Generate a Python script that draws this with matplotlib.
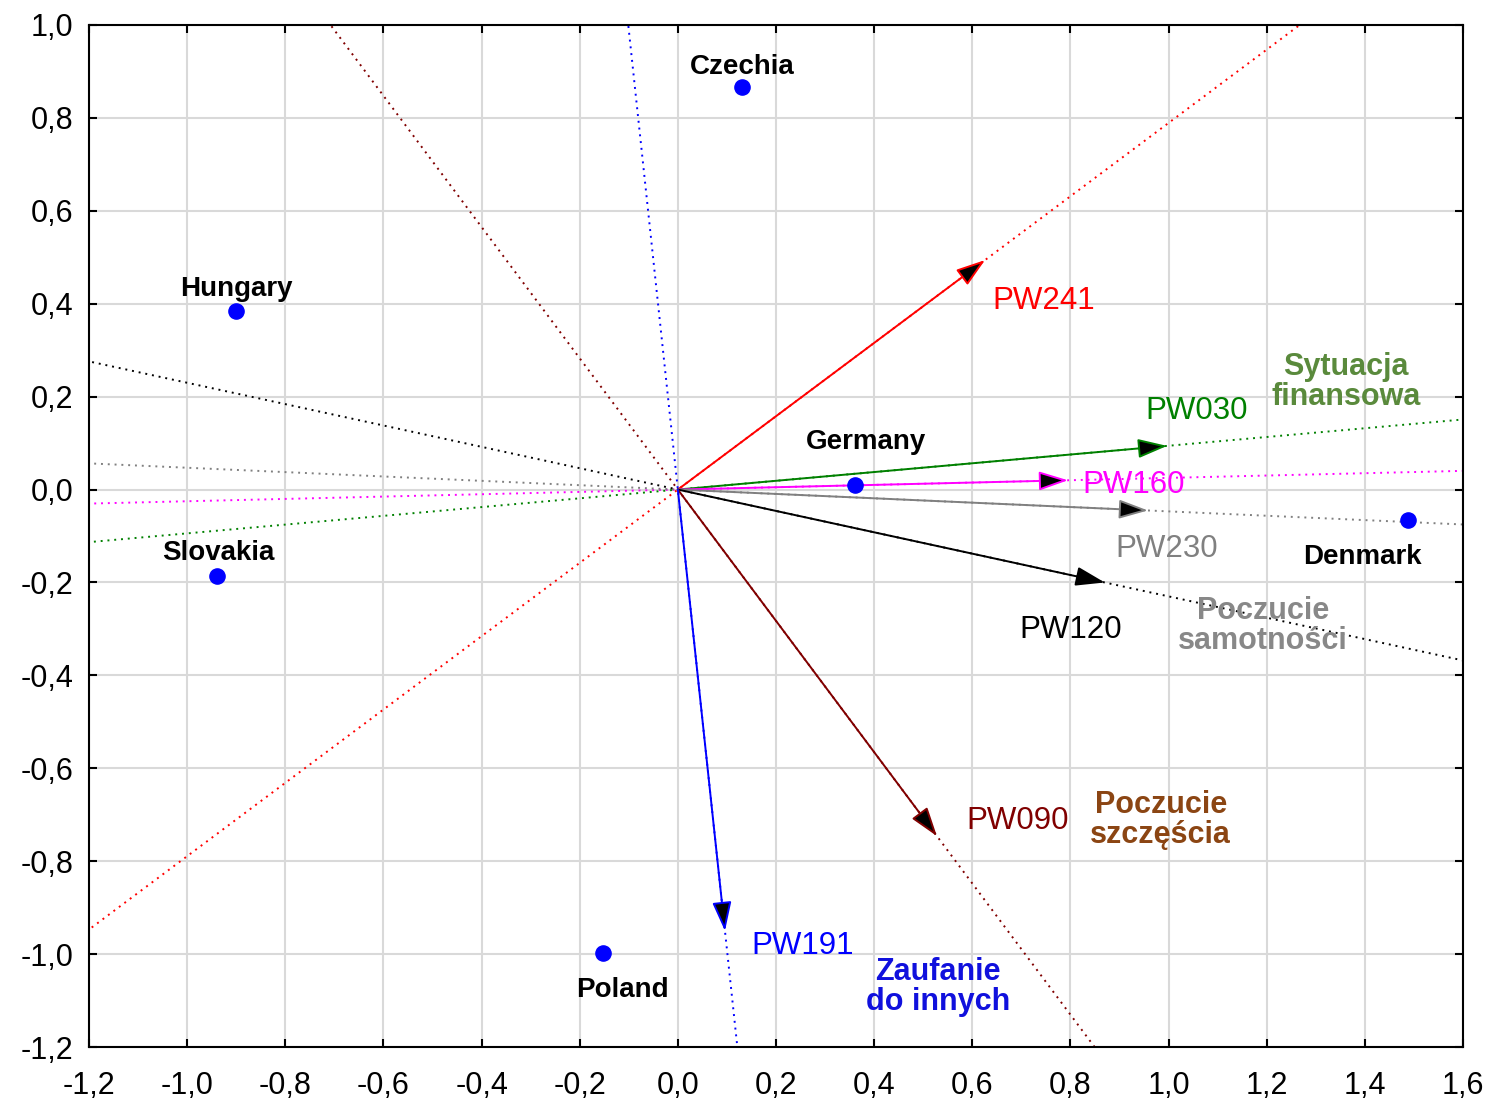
import numpy as np
import matplotlib
matplotlib.use("Agg")
import matplotlib.pyplot as plt

# countries (points)
countries = ["Czechia", "Hungary", "Germany", "Slovakia", "Denmark", "Poland"]
country_x = [0.13, -0.90, 0.36, -0.94, 1.488, -0.153]
country_y = [0.867, 0.384, 0.01, -0.186, -0.066, -0.998]

# variable vectors
vectors = ["PW241", "PW030", "PW160", "PW230", "PW120", "PW090", "PW191"]
vec_x = [0.626, 0.997, 0.795, 0.958, 0.87, 0.528, 0.096]
vec_y = [0.494, 0.094, 0.020, -0.045, -0.200, -0.746, -0.950]
vec_colors = ["#FF0000", "#008000", "#FF00FF", "#808080", "#000000", "#800000", "#0000FF"]

# group labels
groups = ["Sytuacja\nfinansowa", "Poczucie\nsamotności", "Poczucie\nszczęścia", "Zaufanie\ndo innych"]
group_colors = ["#5A8A3C", "#888888", "#8B4513", "#1010DD"]

plt.rcParams["font.family"] = ["Liberation Sans", "DejaVu Sans"]

fig = plt.figure(figsize=(14.91, 11.01), dpi=100)
ax = fig.add_axes([0.0597, 0.049, 0.9215, 0.9283])

xlim = (-1.2, 1.6)
ylim = (-1.2, 1.0)

# dotted lines through origin
for vx, vy, c in zip(vec_x, vec_y, vec_colors):
    t = np.array([-20.0, 20.0])
    ax.plot(t * vx, t * vy, linestyle=(0, (1, 2.5)), color=c, lw=1.4, zorder=2)

# arrows
for vx, vy, c in zip(vec_x, vec_y, vec_colors):
    ax.annotate("", xy=(vx, vy), xytext=(0, 0),
                arrowprops=dict(arrowstyle="-|>,head_length=1.0,head_width=0.33",
                                color=c, fc="k", lw=1.4, shrinkA=0, shrinkB=0,
                                mutation_scale=18),
                zorder=3)

ax.scatter(country_x, country_y, s=120, color="#0000FF", zorder=4)

# country labels
country_lx = [0.132, -0.899, 0.383, -0.937, 1.396, -0.112]
country_ly = [0.91, 0.432, 0.102, -0.137, -0.145, -1.077]
for name, lx, ly in zip(countries, country_lx, country_ly):
    ax.text(lx, ly, name, ha="center", va="center", fontsize=20, fontweight="bold",
            zorder=5)

# vector labels
vec_lx = [0.64, 0.952, 0.825, 0.891, 0.695, 0.589, 0.149]
vec_ly = [0.406, 0.169, 0.01, -0.128, -0.302, -0.714, -0.983]
for name, lx, ly, c in zip(vectors, vec_lx, vec_ly, vec_colors):
    ax.text(lx, ly, name, ha="left", va="center", fontsize=22.5, color=c, zorder=5)

# group labels
group_lx = [1.361, 1.192, 0.984, 0.53]
group_ly = [0.231, -0.294, -0.711, -1.071]
for name, lx, ly, c in zip(groups, group_lx, group_ly, group_colors):
    ax.text(lx, ly, name, ha="center", va="center", fontsize=22, fontweight="bold",
            color=c, linespacing=1.0, zorder=5)

ax.set_xlim(*xlim)
ax.set_ylim(*ylim)
xt = np.round(np.arange(-1.2, 1.61, 0.2), 1)
yt = np.round(np.arange(-1.2, 1.01, 0.2), 1)
ax.set_xticks(xt)
ax.set_yticks(yt)
ax.set_xticklabels([f"{v:.1f}".replace(".", ",").replace("-0,0", "0,0") for v in xt])
ax.set_yticklabels([f"{v:.1f}".replace(".", ",").replace("-0,0", "0,0") for v in yt])
ax.tick_params(direction="in", top=True, right=True, length=6, width=1.5, labelsize=22)
ax.tick_params(axis="x", pad=17)
ax.tick_params(axis="y", pad=11)
ax.grid(True, color="#D9D9D9", lw=1.5, zorder=0)
ax.set_axisbelow(True)
for s in ax.spines.values():
    s.set_linewidth(1.5)

fig.savefig("out.png", dpi=100)
